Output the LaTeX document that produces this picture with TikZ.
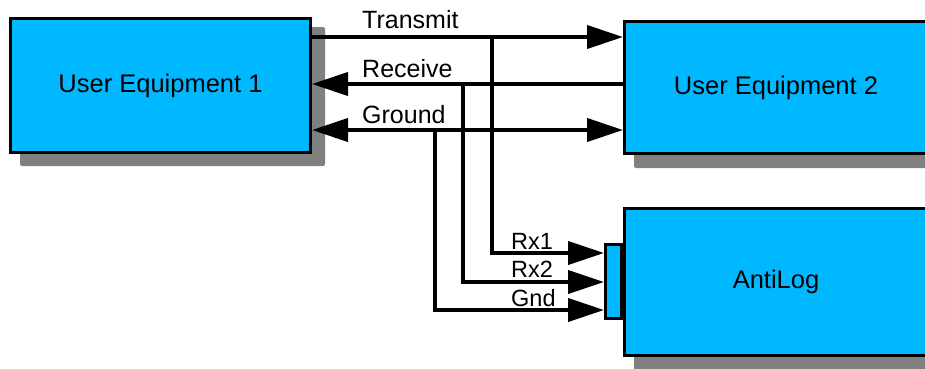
\documentclass[tikz,border=0pt]{standalone}
\usepackage{fontspec}
\setmainfont{Liberation Sans}
\usetikzlibrary{arrows.meta,backgrounds}
\definecolor{boxblue}{RGB}{0,184,255}
\definecolor{shadowgray}{RGB}{128,128,128}
\tikzset{
  x=1pt, y=-1pt,
  box/.style={draw=black, line width=3pt, fill=boxblue, inner sep=0pt,
    font=\fontsize{25.5pt}{30pt}\selectfont},
  wire/.style={draw=black, line width=4pt, line join=miter},
  tip/.style={-{Triangle[length=36pt,width=23pt]}},
  lbl/.style={anchor=base west, inner sep=0pt, font=\fontsize{25pt}{30pt}\selectfont},
  plbl/.style={anchor=base west, inner sep=0pt, font=\fontsize{23.5pt}{28pt}\selectfont},
  shadowbox/.style={fill=shadowgray, rounded corners=2pt}
}
\begin{document}
\begin{tikzpicture}
\useasboundingbox (0,0) rectangle (925,368);
\clip (0,0) rectangle (925,368);
% boxes
\node[box, minimum width=300pt, minimum height=134pt] (ue1) at (160.5,85.5) {User Equipment 1};
\node[box, minimum width=303pt, minimum height=132pt] (ue2) at (776,87.5) {User Equipment 2};
\node[box, minimum width=303pt, minimum height=147pt] (al) at (776,282) {AntiLog};
\node[box, minimum width=16pt, minimum height=74pt] (conn) at (613.5,281.5) {};
% shadows
\begin{scope}[on background layer]
\fill[shadowbox] ([shift={(11,10)}]ue1.north west) rectangle ([shift={(13,12)}]ue1.south east);
\fill[shadowbox] ([shift={(11,10)}]ue2.north west) rectangle ([shift={(13,13)}]ue2.south east);
\fill[shadowbox] ([shift={(11,10)}]al.north west) rectangle ([shift={(13,13)}]al.south east);
\end{scope}
% junction coordinates
\coordinate (jt) at (492,37);
\coordinate (jr) at (463,84);
\coordinate (jg) at (435,130);
% main connectors
\draw[wire, tip] (ue1.east |- jt) -- (ue2.west |- jt);
\draw[wire, tip] (ue2.west |- jr) -- (ue1.east |- jr);
\draw[wire, {Triangle[length=36pt,width=23pt]}-{Triangle[length=36pt,width=23pt]}] (ue1.east |- jg) -- (ue2.west |- jg);
% branches
\draw[wire, tip] (jt) -- (492,253) -- (conn.west |- 0,253);
\draw[wire, tip] (jr) -- (463,282) -- (conn.west |- 0,282);
\draw[wire, tip] (jg) -- (435,310) -- (conn.west |- 0,310);
% labels
\node[lbl] (lt) at (362,28) {Transmit};
\node[lbl] (lr) at (362,77) {Receive};
\node[lbl] (lg) at (362,123) {Ground};
\node[plbl] (l1) at (511,249) {Rx1};
\node[plbl] (l2) at (511,277) {Rx2};
\node[plbl] (l3) at (511,306) {Gnd};
\end{tikzpicture}
\end{document}
